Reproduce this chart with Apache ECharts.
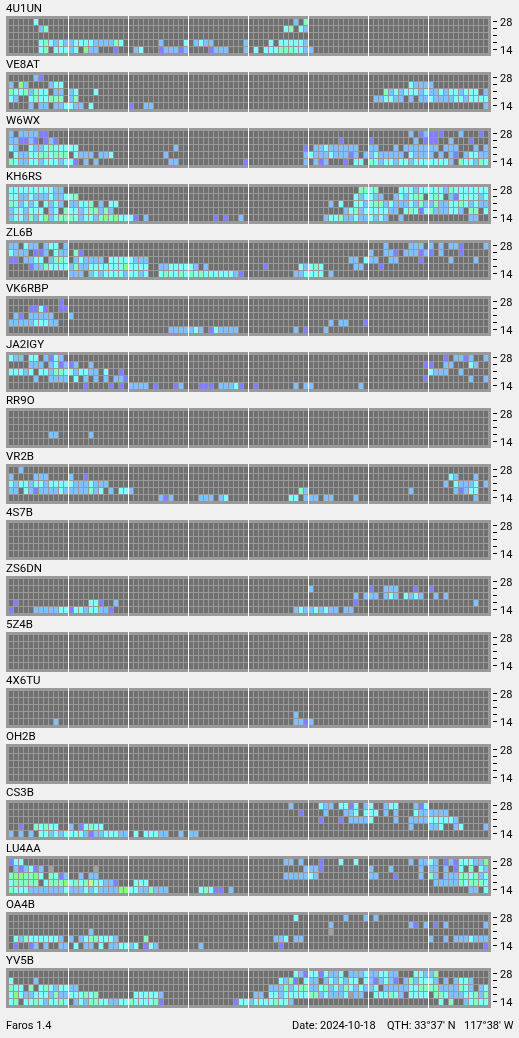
<!DOCTYPE html>
<html>
<head>
<meta charset="utf-8">
<style>html,body{margin:0;padding:0;background:#f0f0f0}#c{width:519px;height:1038px}</style>
<script src="https://cdn.jsdelivr.net/npm/echarts@6/dist/echarts.min.js"></script>
</head>
<body>
<div id="c"></div>
<script>
// Band labels, bottom to top (14 MHz ... 28 MHz)
const bandLabels = ['14', '', '', '', '28'];
// 96 quarter-hour slots per day, a marker every 3 hours
const slotCount = 96;
const hourMarks = [12, 24, 36, 48, 60, 72, 84];
const stationNames = ['4U1UN','VE8AT','W6WX','KH6RS','ZL6B','VK6RBP','JA2IGY','RR9O','VR2B','4S7B','ZS6DN','5Z4B','4X6TU','OH2B','CS3B','LU4AA','OA4B','YV5B'];

// Each station: five rows, top band (28) first. "start:levels" runs, level per slot.
// Levels: 0 none, 1 purple, 2 blue, 3 cyan, 4 teal, 5 green, 6 yellow-green, 9 grey
const d4U1UN = [
 '5:3 57:2 59:4',
 '6:24 55:34 58:32',
 '',
 '6:34323223333222243 30:2 35:3 37:2322 47:2 52:3 54:333332',
 '6:34 9:33323 15:522 21:1 25:23 30:122212 40:1222 47:2 49:3 51:3334443322'];
const dVE8AT = [
 '5:21',
 '0:2 2:52 8:233 80:32222',
 '0:43342433 9:22 12:23 17:3 75:423233323223233233302',
 '0:32 4:3433444 12:24 73:22332202022322223323333',
 '4:2 6:22 9:223322 16:3 24:1 27:22 95:2'];
const dW6WX = [
 '0:2 2:222211 80:2 82:12111 90:2 94:1',
 '0:221121 7:121 66:1 72:1 81:2 83:111 88:2 92:1',
 '0:32 4:3223433333 33:2 59:1 61:223222222 72:22 77:2 79:2222222 87:222 93:2 95:2',
 '1:32233443444 13:3222 18:223 31:2 59:23222322212 71:22322222 80:32222 86:2 88:21 91:23322',
 '0:43223323332331 15:2 17:2 32:22 47:1 59:2 61:212 67:1 69:33 72:43233233233333332 90:433243'];
const dKH6RS = [
 '0:33333333322 70:4434 78:333233333243333333',
 '0:33223222322334 69:323322 77:232344 84:343 88:21333323',
 '0:43232303232022334 18:2 20:33 64:2 66:3 69:332344232223242242233432322',
 '0:233233302304332344242 67:23423333322034313422233204403',
 '0:23324235234443233245453331 27:2 41:1 43:1 46:2 63:2334223223232 78:2 92:22'];
const dZL6B = [
 '0:22 3:322 7:233 11:2 75:2 80:222 84:2 86:2 88:221 95:2',
 '0:3222 5:112 9:322 13:41 72:2 75:221 79:222121 86:2 90:1',
 '0:11 3:2233 8:2443 13:232222 20:33333222 68:22 71:322 76:22 82:1 88:2 93:2',
 '4:122433332422333333353333 30:22333332 39:2 51:1 58:32343 69:22 74:1',
 '12:222 16:232333323323 30:34334343433333321 57:223333 64:2'];
const dVK6RBP = [
 '10:1',
 '4:1131 10:11',
 '1:21 4:22222 12:2',
 '0:2222233322 64:2 66:22 71:1',
 '32:2222232 40:132222 57:2 59:1 63:2'];
const dJA2IGY = [
 '0:322 4:33 7:2132 87:1 89:2212 95:2',
 '4:222 8:231212 16:2 83:11 87:22 92:32',
 '0:33323 6:332443323322 19:3 22:1 84:3222 90:2',
 '5:2 8:2222 13:3 15:2 17:2 19:2 21:221 83:1 92:2 95:2',
 '15:1 20:1 22:1 24:2222 29:1 33:12 38:111 42:22231 49:1 57:2 59:22 70:2'];
const dRR9O = ['', '', '', '8:22 16:2', ''];
const dVR2B = [
 '2:2',
 '0:2 5:222 12:2 15:1 88:32 93:2',
 '0:32332332333332223222 87:2 89:32223 95:2',
 '0:22 3:3212222322222423 20:2 22:332 58:42 80:2 89:21233',
 '30:212 38:222 42:23 56:33 59:222 63:22 69:2 93:2'];
const d4S7B = ['', '', '', '', ''];
const dZS6DN = [
 '',
 '60:2 72:1 75:222 81:1 84:1',
 '69:2 71:222 75:232 79:3232 85:2 87:2',
 '1:1 16:331 21:2 69:1 93:2',
 '0:1 5:2222233133233221 57:232232322 67:22'];
const d5Z4B = ['', '', '', '', ''];
const d4X6TU = ['', '', '', '57:2', '9:2 57:2212'];
const dOH2B = ['', '', '', '', ''];
const dCS3B = [
 '56:2 62:322 66:3313 71:23 75:233 81:213',
 '58:1 63:2 67:223 71:333 75:2 77:2 81:3222222',
 '62:1 66:1 68:22223 77:2 80:2222333332',
 '2:1 5:43433 12:2 14:13433 80:2 84:223 89:23 95:2',
 '0:2 2:2 4:2 6:332323333212233322 25:3 27:33322 34:2 36:22'];
const dLU4AA = [
 '0:133 55:22 58:2 62:1 66:3 69:3 80:2 82:2232 87:121333225',
 '1:212312 8:9 17:9 59:2221 72:2 76:2 82:2 84:22 87:2 89:13 92:4 94:32',
 '0:4554453 8:4312 14:2 16:22 55:2222232 72:22 77:1 82:2 84:42 87:222443423',
 '0:344444 7:344453434633221 25:333 85:22222434443',
 '0:43332222222322232322225533224222 38:34311 44:2 92:22 95:3'];
const dOA4B = [
 '57:3 67:2 71:2 73:2',
 '64:2 80:21 83:2 85:1 87:2 95:2',
 '16:2 64:9',
 '1:3243333332 12:2 14:23443332 27:4 53:223 57:22 84:2 87:2 89:2223222',
 '1:1 4:12 7:2 10:22 13:3 15:22 18:3 20:223323 27:132 38:2 54:1 95:1'];
const dYV5B = [
 '57:321331322302223223322 81:33224',
 '0:3 5:2 54:3241 59:322 63:2323233 71:3212321 79:2423332 87:2 89:2332',
 '0:433 4:4 6:34323322 52:22242344223423243232230222223344442222432023',
 '0:353223332422333434 25:333332 49:22 52:33233333442322239220033343203333044322233424',
 '0:340334323343 13:232443322334333341 45:133233334332 86:3 88:4 91:23433'];

const stationRows = [d4U1UN,dVE8AT,dW6WX,dKH6RS,dZL6B,dVK6RBP,dJA2IGY,dRR9O,dVR2B,d4S7B,dZS6DN,d5Z4B,d4X6TU,dOH2B,dCS3B,dLU4AA,dOA4B,dYV5B];
const footerLeft = 'Faros 1.4';
const footerDate = 'Date: 2024-10-18';
const footerQth = "QTH: 33°37' N";
const footerLon = "117°38' W";

const levelColors = {0:'#707070',1:'#8080ff',2:'#80c0ff',3:'#80ffff',4:'#80ffc0',5:'#80ff80',6:'#c0ff80',9:'#a0a0a0'};
const FONT = 'Roboto';
const TXT = '#000';

function expand(rows) {
  const out = [];
  rows.forEach((row, r) => {
    const levels = new Array(slotCount).fill(0);
    row.split(' ').filter(Boolean).forEach(run => {
      const [s, l] = run.split(':');
      [...l].forEach((ch, k) => { if (+s + k < slotCount) levels[+s + k] = +ch; });
    });
    levels.forEach((v, c) => out.push([c, 4 - r, v]));
  });
  return out;
}
const slots = Array.from({length: slotCount}, (_, i) => String(i));
const PITCH = 56;
const grids = [], xAxes = [], yAxes = [], series = [], titles = [], graphics = [];

stationNames.forEach((name, i) => {
  const panelTop = 16 + PITCH * i;
  graphics.push({type:'rect', z:-1, silent:true, shape:{x:6, y:panelTop, width:485, height:40}, style:{fill:'#999999'}});
  titles.push({text:name, left:6, top:panelTop - 13, padding:0, textStyle:{fontFamily:FONT, fontSize:11.5, fontWeight:'normal', color:TXT}});
  grids.push({left:8, top:panelTop + 2, width:480, height:35});
  xAxes.push({type:'category', gridIndex:i, data:slots, show:false});
  yAxes.push({type:'category', gridIndex:i, data:bandLabels, position:'right', offset:5,
    axisLine:{show:false},
    axisTick:{show:true, alignWithLabel:true, length:4, lineStyle:{color:'#000', width:1}},
    axisLabel:{show:true, interval:0, margin:7, color:TXT, fontFamily:FONT, fontSize:11,
      formatter: v => v ? '{a|' + v + '}' : '',
      rich:{a:{fontFamily:FONT, fontSize:11, color:TXT, padding:[4,0,0,0]}}},
    splitLine:{show:false}});
  series.push({
    type:'custom', name:name, xAxisIndex:i, yAxisIndex:i, coordinateSystem:'cartesian2d',
    animation:false, silent:true, encode:{x:0, y:1},
    data: expand(stationRows[i]),
    renderItem(params, api) {
      const p = api.coord([api.value(0), api.value(1)]);
      const s = api.size([1, 1]);
      return {type:'rect',
        shape:{x:Math.round(p[0] - s[0]/2) + 1, y:Math.round(p[1] - s[1]/2) + 1, width:s[0] - 1, height:s[1] - 1},
        style:{fill:levelColors[api.value(2)]}};
    }
  });
  series.push({
    type:'custom', name:name + ' hours', xAxisIndex:i, yAxisIndex:i, coordinateSystem:'cartesian2d',
    animation:false, silent:true, clip:false, encode:{x:0},
    data: hourMarks.map(h => [h, 0]),
    renderItem(params, api) {
      const p = api.coord([api.value(0), 0]);
      const s = api.size([1, 1]);
      return {type:'rect', shape:{x:Math.round(p[0] - s[0]/2), y:panelTop, width:1, height:40}, style:{fill:'#ffffff'}};
    }
  });
});
const footY = 1021;
[[footerLeft,6],[footerDate,292],[footerQth,387],[footerLon,464]].forEach(([t,x]) => {
  titles.push({text:t, left:x, top:footY, padding:0, textStyle:{fontFamily:FONT, fontSize:11, fontWeight:'normal', color:TXT}});
});

const chart = echarts.init(document.getElementById('c'), null, {renderer:'canvas', width:519, height:1038});
chart.setOption({
  backgroundColor:'#f0f0f0', animation:false, tooltip:{show:false},
  title:titles, grid:grids, xAxis:xAxes, yAxis:yAxes, series:series, graphic:graphics
});
</script>
</body>
</html>
